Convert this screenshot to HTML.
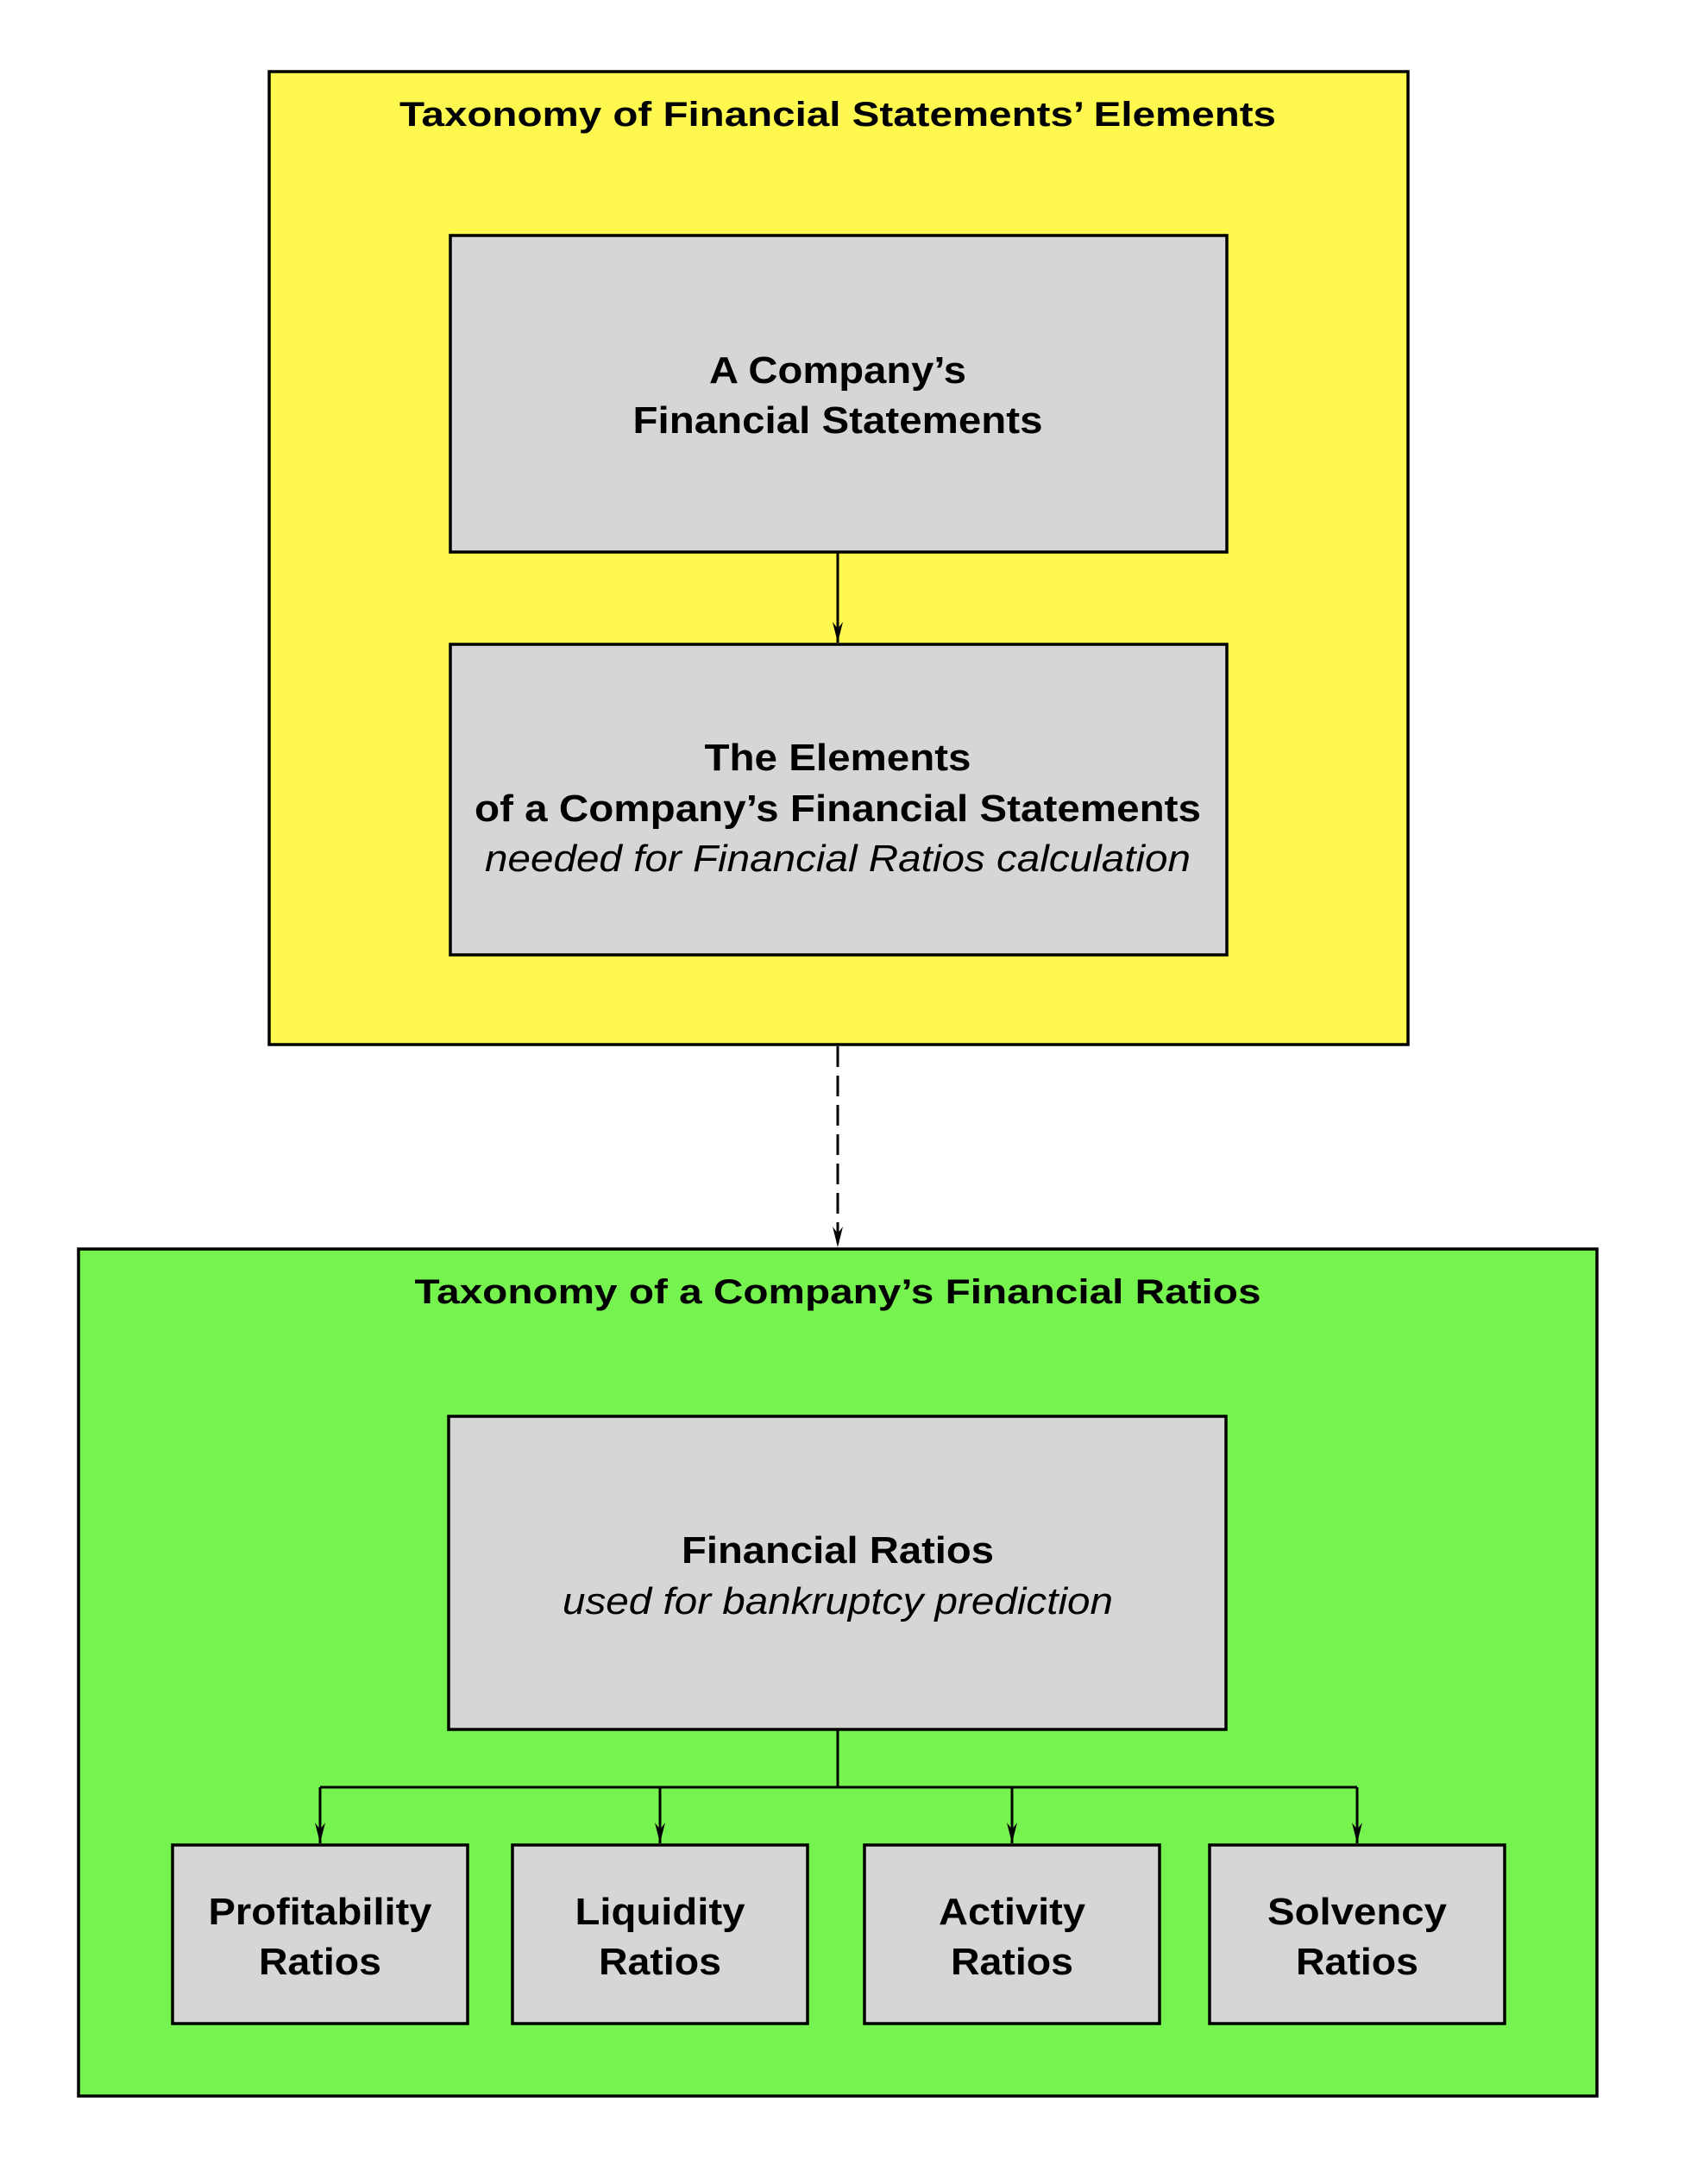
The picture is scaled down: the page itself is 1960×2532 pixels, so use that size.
<!DOCTYPE html>
<html><head><meta charset="utf-8"><style>html,body{margin:0;padding:0;background:#fff}svg{display:block}</style></head>
<body>
<svg width="1960" height="2532" viewBox="0 0 1960 2532" xmlns="http://www.w3.org/2000/svg" font-family="Liberation Sans, Arial, sans-serif" font-weight="bold" text-anchor="middle">
<defs>
<marker id="ah" markerWidth="24" markerHeight="12" refX="24" refY="6" orient="auto" markerUnits="userSpaceOnUse" viewBox="0 0 24 12">
<path d="M0,0 L24,6 L0,12 L8,6 Z" fill="#000"/>
</marker>
</defs>
<rect x="312" y="83" width="1320" height="1128" fill="#fef84f" stroke="#000" stroke-width="3.5"/>
<text x="971" y="146" font-size="40" textLength="1016" lengthAdjust="spacingAndGlyphs">Taxonomy of Financial Statements’ Elements</text>
<rect x="522" y="273" width="900" height="367" fill="#d6d6d6" stroke="#000" stroke-width="3.5"/>
<text x="971" y="444" font-size="44" textLength="298" lengthAdjust="spacingAndGlyphs">A Company’s</text>
<text x="971" y="502" font-size="44" textLength="475" lengthAdjust="spacingAndGlyphs">Financial Statements</text>
<line x1="971" y1="640" x2="971" y2="745" stroke="#000" stroke-width="3" marker-end="url(#ah)"/>
<rect x="522" y="747" width="900" height="360" fill="#d6d6d6" stroke="#000" stroke-width="3.5"/>
<text x="971" y="893" font-size="44" textLength="309" lengthAdjust="spacingAndGlyphs">The Elements</text>
<text x="971" y="952" font-size="44" textLength="842" lengthAdjust="spacingAndGlyphs">of a Company’s Financial Statements</text>
<text x="971" y="1010" font-size="44" font-weight="normal" font-style="italic" textLength="818" lengthAdjust="spacingAndGlyphs">needed for Financial Ratios calculation</text>
<line x1="971" y1="1213" x2="971" y2="1446" stroke="#000" stroke-width="3" stroke-dasharray="24,10" marker-end="url(#ah)"/>
<rect x="91" y="1448" width="1760" height="982" fill="#77f34f" stroke="#000" stroke-width="3.5"/>
<text x="971" y="1511" font-size="40" textLength="981" lengthAdjust="spacingAndGlyphs">Taxonomy of a Company’s Financial Ratios</text>
<rect x="520" y="1642" width="901" height="363" fill="#d6d6d6" stroke="#000" stroke-width="3.5"/>
<text x="971" y="1812" font-size="44" textLength="362" lengthAdjust="spacingAndGlyphs">Financial Ratios</text>
<text x="971" y="1871" font-size="44" font-weight="normal" font-style="italic" textLength="638" lengthAdjust="spacingAndGlyphs">used for bankruptcy prediction</text>
<g stroke="#000" stroke-width="3" fill="none">
<line x1="971" y1="2005" x2="971" y2="2072"/>
<line x1="371" y1="2072" x2="1573" y2="2072"/>
<line x1="371" y1="2072" x2="371" y2="2137" marker-end="url(#ah)"/>
<line x1="765" y1="2072" x2="765" y2="2137" marker-end="url(#ah)"/>
<line x1="1173" y1="2072" x2="1173" y2="2137" marker-end="url(#ah)"/>
<line x1="1573" y1="2072" x2="1573" y2="2137" marker-end="url(#ah)"/>
</g>
<g fill="#d6d6d6" stroke="#000" stroke-width="3.5">
<rect x="200" y="2139" width="342" height="207"/>
<rect x="594" y="2139" width="342" height="207"/>
<rect x="1002" y="2139" width="342" height="207"/>
<rect x="1402" y="2139" width="342" height="207"/>
</g>
<g font-size="44">
<text x="371" y="2231" textLength="259" lengthAdjust="spacingAndGlyphs">Profitability</text>
<text x="371" y="2289" textLength="142" lengthAdjust="spacingAndGlyphs">Ratios</text>
<text x="765" y="2231" textLength="197" lengthAdjust="spacingAndGlyphs">Liquidity</text>
<text x="765" y="2289" textLength="142" lengthAdjust="spacingAndGlyphs">Ratios</text>
<text x="1173" y="2231" textLength="170" lengthAdjust="spacingAndGlyphs">Activity</text>
<text x="1173" y="2289" textLength="142" lengthAdjust="spacingAndGlyphs">Ratios</text>
<text x="1573" y="2231" textLength="208" lengthAdjust="spacingAndGlyphs">Solvency</text>
<text x="1573" y="2289" textLength="142" lengthAdjust="spacingAndGlyphs">Ratios</text>
</g>
</svg>
</body></html>
